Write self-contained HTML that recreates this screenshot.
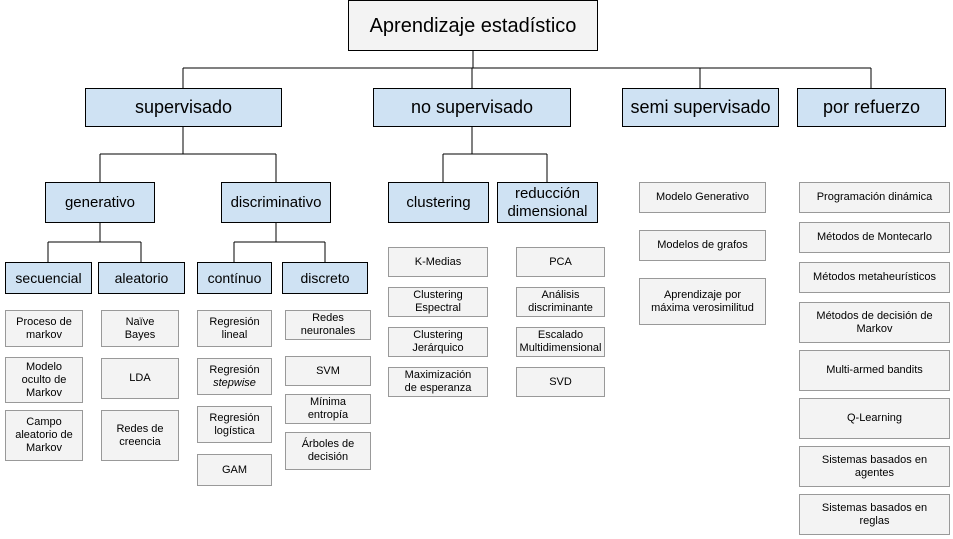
<!DOCTYPE html>
<html><head><meta charset="utf-8"><style>
body{margin:0;width:953px;height:539px;background:#fff;position:relative;overflow:hidden;font-family:"Liberation Sans",Arial,sans-serif;}
.b{position:absolute;box-sizing:border-box;display:flex;align-items:center;justify-content:center;text-align:center;color:#000;line-height:1.2;}
.t{background:#f3f3f3;border:1px solid #000;font-size:20px;}
.h{background:#cfe2f3;border:1px solid #000;}
.l{background:#f3f3f3;border:1px solid #999;font-size:11px;line-height:13px;}
svg{position:absolute;left:0;top:0}
</style></head><body>
<svg width="953" height="539"><g stroke="#000" stroke-width="1" fill="none">
<path d="M473 50V68M183 68H871M183 68V88M472 68V88M700 68V88M871 68V88"/>
<path d="M183 126V154M100 154H276M100 154V182M276 154V182"/>
<path d="M100 222V242M48 242H141M48 242V262M141 242V262"/>
<path d="M276 222V242M234 242H325M234 242V262M325 242V262"/>
<path d="M472 126V154M443 154H547M443 154V182M547 154V182"/>
</g></svg>
<div class="b t" style="left:348px;top:0;width:250px;height:51px"><span>Aprendizaje estadístico</span></div>
<div class="b h" style="left:85px;top:88px;width:197px;height:39px;font-size:18px"><span>supervisado</span></div>
<div class="b h" style="left:373px;top:88px;width:198px;height:39px;font-size:18px"><span>no supervisado</span></div>
<div class="b h" style="left:622px;top:88px;width:157px;height:39px;font-size:18px"><span>semi supervisado</span></div>
<div class="b h" style="left:797px;top:88px;width:149px;height:39px;font-size:18px"><span>por refuerzo</span></div>
<div class="b h" style="left:45px;top:182px;width:110px;height:41px;font-size:15px"><span>generativo</span></div>
<div class="b h" style="left:221px;top:182px;width:110px;height:41px;font-size:15px"><span>discriminativo</span></div>
<div class="b h" style="left:388px;top:182px;width:101px;height:41px;font-size:15px"><span>clustering</span></div>
<div class="b h" style="left:497px;top:182px;width:101px;height:41px;font-size:15px"><span>reducción<br>dimensional</span></div>
<div class="b h" style="left:5px;top:262px;width:87px;height:32px;font-size:14px"><span>secuencial</span></div>
<div class="b h" style="left:98px;top:262px;width:87px;height:32px;font-size:14px"><span>aleatorio</span></div>
<div class="b h" style="left:197px;top:262px;width:75px;height:32px;font-size:14px"><span>contínuo</span></div>
<div class="b h" style="left:282px;top:262px;width:86px;height:32px;font-size:14px"><span>discreto</span></div>

<div class="b l" style="left:5px;top:310px;width:78px;height:37px"><span>Proceso de<br>markov</span></div>
<div class="b l" style="left:5px;top:357px;width:78px;height:46px"><span>Modelo<br>oculto de<br>Markov</span></div>
<div class="b l" style="left:5px;top:410px;width:78px;height:51px"><span>Campo<br>aleatorio de<br>Markov</span></div>
<div class="b l" style="left:101px;top:310px;width:78px;height:37px"><span>Naïve<br>Bayes</span></div>
<div class="b l" style="left:101px;top:358px;width:78px;height:41px"><span>LDA</span></div>
<div class="b l" style="left:101px;top:410px;width:78px;height:51px"><span>Redes de<br>creencia</span></div>
<div class="b l" style="left:197px;top:310px;width:75px;height:37px"><span>Regresión<br>lineal</span></div>
<div class="b l" style="left:197px;top:358px;width:75px;height:37px"><span>Regresión<br><i>stepwise</i></span></div>
<div class="b l" style="left:197px;top:406px;width:75px;height:37px"><span>Regresión<br>logística</span></div>
<div class="b l" style="left:197px;top:454px;width:75px;height:32px"><span>GAM</span></div>
<div class="b l" style="left:285px;top:310px;width:86px;height:30px"><span>Redes<br>neuronales</span></div>
<div class="b l" style="left:285px;top:356px;width:86px;height:30px"><span>SVM</span></div>
<div class="b l" style="left:285px;top:394px;width:86px;height:30px"><span>Mínima<br>entropía</span></div>
<div class="b l" style="left:285px;top:432px;width:86px;height:38px"><span>Árboles de<br>decisión</span></div>

<div class="b l" style="left:388px;top:247px;width:100px;height:30px"><span>K-Medias</span></div>
<div class="b l" style="left:388px;top:287px;width:100px;height:30px"><span>Clustering<br>Espectral</span></div>
<div class="b l" style="left:388px;top:327px;width:100px;height:30px"><span>Clustering<br>Jerárquico</span></div>
<div class="b l" style="left:388px;top:367px;width:100px;height:30px"><span>Maximización<br>de esperanza</span></div>
<div class="b l" style="left:516px;top:247px;width:89px;height:30px"><span>PCA</span></div>
<div class="b l" style="left:516px;top:287px;width:89px;height:30px"><span>Análisis<br>discriminante</span></div>
<div class="b l" style="left:516px;top:327px;width:89px;height:30px"><span>Escalado<br>Multidimensional</span></div>
<div class="b l" style="left:516px;top:367px;width:89px;height:30px"><span>SVD</span></div>

<div class="b l" style="left:639px;top:182px;width:127px;height:31px"><span>Modelo Generativo</span></div>
<div class="b l" style="left:639px;top:230px;width:127px;height:31px"><span>Modelos de grafos</span></div>
<div class="b l" style="left:639px;top:278px;width:127px;height:47px"><span>Aprendizaje por<br>máxima verosimilitud</span></div>

<div class="b l" style="left:799px;top:182px;width:151px;height:31px"><span>Programación dinámica</span></div>
<div class="b l" style="left:799px;top:222px;width:151px;height:31px"><span>Métodos de Montecarlo</span></div>
<div class="b l" style="left:799px;top:262px;width:151px;height:31px"><span>Métodos metaheurísticos</span></div>
<div class="b l" style="left:799px;top:302px;width:151px;height:41px"><span>Métodos de decisión de<br>Markov</span></div>
<div class="b l" style="left:799px;top:350px;width:151px;height:41px"><span>Multi-armed bandits</span></div>
<div class="b l" style="left:799px;top:398px;width:151px;height:41px"><span>Q-Learning</span></div>
<div class="b l" style="left:799px;top:446px;width:151px;height:41px"><span>Sistemas basados en<br>agentes</span></div>
<div class="b l" style="left:799px;top:494px;width:151px;height:41px"><span>Sistemas basados en<br>reglas</span></div>
</body></html>
